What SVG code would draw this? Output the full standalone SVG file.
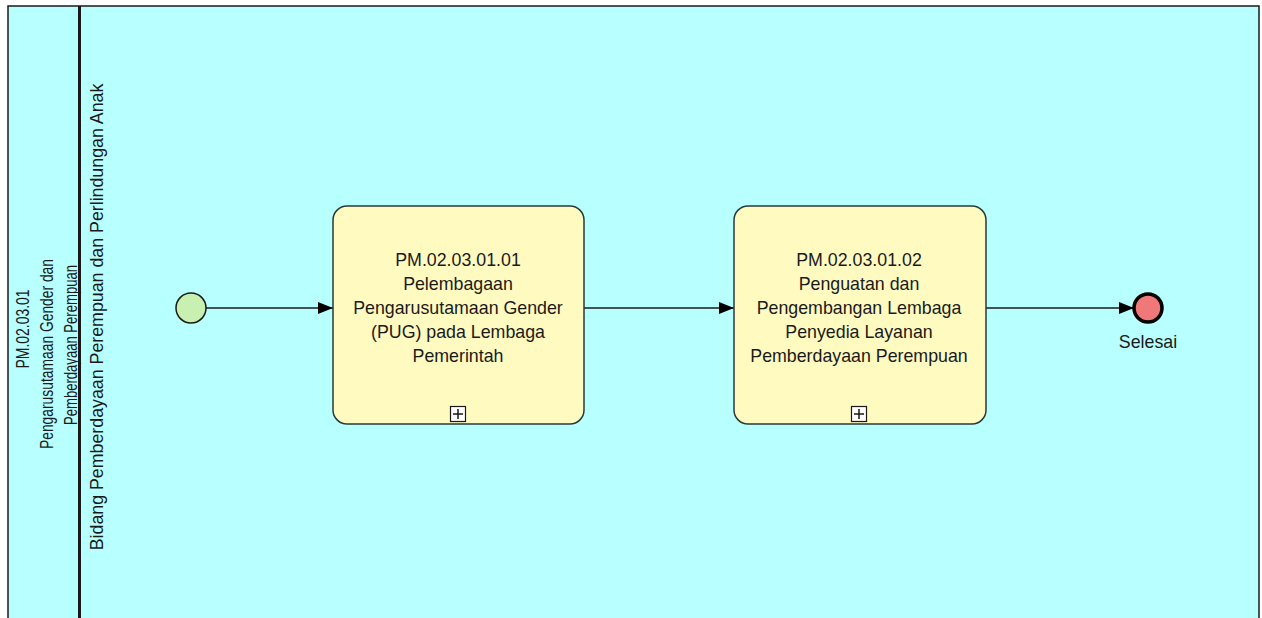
<svg xmlns="http://www.w3.org/2000/svg" width="1262" height="618" viewBox="0 0 1262 618">
<defs>
<style>
.t{font-family:"Liberation Sans",Arial,sans-serif;font-size:17.8px;fill:#1a1a1a;text-anchor:middle}
.p{font-family:"Liberation Sans",Arial,sans-serif;font-size:17.8px;fill:#1a1a1a;text-anchor:middle}
.task{fill:#FFFAC0;stroke:#2a3a3a;stroke-width:1.5}
.flow{stroke:#1a1a1a;stroke-width:1.3;fill:none;marker-end:url(#arr)}
</style>
<marker id="arr" markerWidth="15" markerHeight="12" refX="15" refY="6" orient="auto" markerUnits="userSpaceOnUse">
<path d="M0,0 L15,6 L0,12 Z" fill="#000"/>
</marker>
</defs>
<rect width="1262" height="618" fill="#fff"/>
<g id="pool">
<rect x="8" y="6" width="1251" height="620" fill="#B8FFFF" stroke="#1a1a1a" stroke-width="1.5"/>
<line x1="79.5" y1="6" x2="79.5" y2="618" stroke="#1a1a1a" stroke-width="3"/>
<text class="p" transform="translate(28.5,329) rotate(-90)" textLength="79" lengthAdjust="spacingAndGlyphs">PM.02.03.01</text>
<text class="p" transform="translate(53,354) rotate(-90)" textLength="190" lengthAdjust="spacingAndGlyphs">Pengarusutamaan Gender dan</text>
<text class="p" transform="translate(76.5,345) rotate(-90)" textLength="160" lengthAdjust="spacingAndGlyphs">Pemberdayaan Perempuan</text>
</g>
<g id="lane">
<text class="t" transform="translate(103,317) rotate(-90)">Bidang Pemberdayaan Perempuan dan Perlindungan Anak</text>
</g>
<g id="connectors">
<line class="flow" x1="206" y1="308" x2="333" y2="308"/>
<line class="flow" x1="584" y1="308" x2="734" y2="308"/>
<line class="flow" x1="986" y1="308" x2="1134" y2="308"/>
</g>
<g id="start">
<circle cx="191" cy="308" r="15" fill="#C8F0B0" stroke="#1a1a1a" stroke-width="1.5"/>
</g>
<g id="task1">
<rect class="task" x="333" y="206" width="251" height="218" rx="14"/>
<text class="t" x="458" y="266">PM.02.03.01.01</text>
<text class="t" x="458" y="290">Pelembagaan</text>
<text class="t" x="458" y="314">Pengarusutamaan Gender</text>
<text class="t" x="458" y="338">(PUG) pada Lembaga</text>
<text class="t" x="458" y="362">Pemerintah</text>
<rect x="450.5" y="406.5" width="15" height="15" fill="#fff" stroke="#1a1a1a" stroke-width="1.2"/>
<path d="M458,409 V419 M453,414 H463" stroke="#1a1a1a" stroke-width="1.5"/>
</g>
<g id="task2">
<rect class="task" x="734" y="206" width="252" height="218" rx="14"/>
<text class="t" x="859" y="266">PM.02.03.01.02</text>
<text class="t" x="859" y="290">Penguatan dan</text>
<text class="t" x="859" y="314">Pengembangan Lembaga</text>
<text class="t" x="859" y="338">Penyedia Layanan</text>
<text class="t" x="859" y="362">Pemberdayaan Perempuan</text>
<rect x="851.5" y="406.5" width="15" height="15" fill="#fff" stroke="#1a1a1a" stroke-width="1.2"/>
<path d="M859,409 V419 M854,414 H864" stroke="#1a1a1a" stroke-width="1.5"/>
</g>
<g id="end">
<circle cx="1148" cy="308" r="14" fill="#F07878" stroke="#000" stroke-width="3.5"/>
<text class="t" x="1148" y="348">Selesai</text>
</g>
</svg>
